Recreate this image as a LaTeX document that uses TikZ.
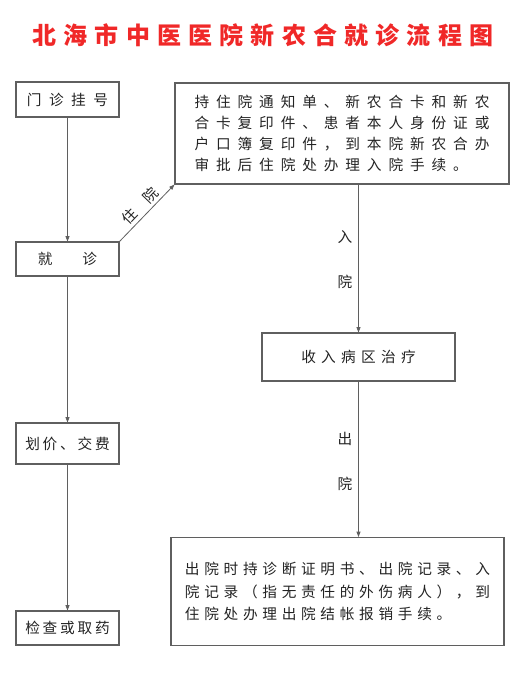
\documentclass[tikz,border=0pt]{standalone}
\usepackage{fontspec}
\usepackage{tikz}
\usetikzlibrary{arrows.meta,positioning}
\newfontfamily\cjk{Noto Sans CJK SC}
\newcommand\lsp[1]{\addfontfeature{LetterSpace=#1}}
\definecolor{frame}{RGB}{95,95,95}
\definecolor{ink}{RGB}{35,35,35}
\definecolor{titlered}{RGB}{240,40,40}

\begin{document}
\begin{tikzpicture}[
  x=0.75pt, y=-0.75pt,
  every node/.style={font=\cjk\fontsize{11pt}{15.75pt}\selectfont, text=ink},
  stepbox/.style={draw=frame, line width=0.8pt, minimum width=77.25pt,
                  inner sep=0pt, align=center},
  notebox/.style={draw=frame, line width=0.8pt, inner sep=0pt, align=left},
  flow/.style={draw=frame, line width=0.6pt, -{Triangle[length=4pt,width=3pt]}},
  tag/.style={align=center, inner sep=0pt}
]
\useasboundingbox (0,0) rectangle (524,680);

\node (title) at (263,35)
  [font=\cjk\bfseries\fontsize{18pt}{20pt}\selectfont\lsp{30}, text=titlered]
  {北海市中医医院新农合就诊流程图};

% left column: outpatient
\node[stepbox, minimum height=26.25pt, font=\cjk\fontsize{11pt}{14pt}\selectfont\lsp{51}]
  (reg) at (67.5,99.5) {门诊挂号};
\node[stepbox, minimum height=25.5pt]
  (visit) at (67.5,259) {就\hspace{22.5pt}诊};
\node[stepbox, minimum height=30.75pt, font=\cjk\fontsize{11pt}{14pt}\selectfont\lsp{19}]
  (pay) at (67.5,443.5) {划价、交费};
\node[stepbox, minimum height=25.5pt, font=\cjk\fontsize{11pt}{14pt}\selectfont\lsp{19}]
  (check) at (67.5,628) {检查或取药};

% right column: inpatient
\node[notebox, minimum width=250.5pt, minimum height=75.75pt,
      font=\cjk\fontsize{11pt}{15.75pt}\selectfont\lsp{47}]
  (admit) at (342,133.5) {%
  持住院通知单、新农合卡和新农\\
  合卡复印件、患者本人身份证或\\
  户口簿复印件，到本院新农合办\\
  审批后住院处办理入院手续。};

\node[stepbox, minimum width=144.75pt, minimum height=36pt,
      font=\cjk\fontsize{11pt}{14pt}\selectfont\lsp{36}]
  (ward) at (358.5,357) {收入病区治疗};

\node[notebox, minimum width=249.75pt, minimum height=81pt,
      font=\cjk\fontsize{11pt}{17pt}\selectfont\lsp{32}]
  (discharge) at (337.5,591.5) {%
  出院时持诊断证明书、出院记录、入\\
  院记录（指无责任的外伤病人），到\\
  住院处办理出院结帐报销手续。};

\draw[flow] (reg) -- (visit);
\draw[flow] (visit) -- (pay);
\draw[flow] (pay) -- (check);
\draw[flow] (visit.north east) --
  node[midway, sloped, above=2pt, inner sep=0pt] (inlbl) {住\hspace{11pt}院}
  (admit.south west);
\draw[flow] (admit.south -| ward) -- (ward);
\draw[flow] (ward) -- (ward |- discharge.north);

\node[tag, font=\cjk\fontsize{11pt}{33.75pt}\selectfont]
  (admitlbl) at (345,259.5) {入\\院};
\node[tag, font=\cjk\fontsize{11pt}{33.75pt}\selectfont]
  (outlbl) at (345,461) {出\\院};

\end{tikzpicture}
\end{document}
